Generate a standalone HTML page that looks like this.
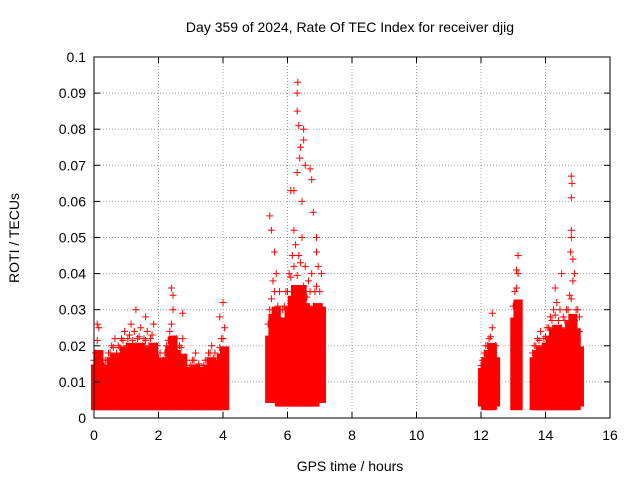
<!DOCTYPE html>
<html><head><meta charset="utf-8"><style>
body{margin:0;background:#fff;font-family:"Liberation Sans",sans-serif;}
svg text{font-family:"Liberation Sans",sans-serif;font-size:14px;fill:#000;}
</style></head><body>
<svg id="chart" width="640" height="480" viewBox="0 0 640 480">
<text x="350" y="32" text-anchor="middle">Day 359 of 2024, Rate Of TEC Index for receiver djig</text>
<text x="350" y="471" text-anchor="middle">GPS time / hours</text>
<text transform="translate(19,238) rotate(-90)" text-anchor="middle">ROTI / TECUs</text>
<g id="grid"></g>
<g id="bands"></g>
<g id="points"></g>
<rect x="94" y="57" width="516" height="361" fill="none" stroke="#000" stroke-width="1"/>
<g id="ticks"></g>
</svg>
<script>
const xTicks=[0,2,4,6,8,10,12,14,16];
const yTicks=[0,0.01,0.02,0.03,0.04,0.05,0.06,0.07,0.08,0.09,0.1];
const yTickLabels=["0","0.01","0.02","0.03","0.04","0.05","0.06","0.07","0.08","0.09","0.1"];
const binTimes=[0.0,0.1,0.2,0.3,0.4,0.5,0.6,0.7,0.8,0.9,1.0,1.1,1.2,1.3,1.4,1.5,1.6,1.7,1.8,1.9,2.0,2.1,2.2,2.3,2.4,2.5,2.6,2.7,2.8,2.9,3.0,3.1,3.2,3.3,3.4,3.5,3.6,3.7,3.8,3.9,4.0,
5.4,5.5,5.6,5.7,5.8,5.9,6.0,6.1,6.2,6.3,6.4,6.5,6.6,6.7,6.8,6.9,7.0,
12.0,12.1,12.2,12.3,12.4,
13.0,13.1,
13.6,13.7,13.8,13.9,14.0,14.1,14.2,14.3,14.4,14.5,14.6,14.7,14.8,14.9,15.0];
const binDense=[0.014,0.018,0.012,0.013,0.014,0.016,0.017,0.016,0.017,0.019,0.018,0.02,0.019,0.018,0.02,0.018,0.019,0.018,0.02,0.016,0.015,0.013,0.016,0.019,0.022,0.018,0.016,0.017,0.013,0.012,0.013,0.014,0.012,0.012,0.013,0.014,0.016,0.015,0.013,0.017,0.019,
0.022,0.028,0.03,0.027,0.024,0.027,0.03,0.033,0.036,0.034,0.036,0.031,0.029,0.03,0.027,0.031,0.03,
0.013,0.016,0.018,0.02,0.016,
0.027,0.032,
0.016,0.018,0.019,0.018,0.02,0.022,0.024,0.025,0.024,0.022,0.024,0.026,0.028,0.024,0.019];
const binPeaks=[0.018,0.025,0.015,0.016,0.018,0.02,0.022,0.02,0.022,0.024,0.022,0.026,0.024,0.022,0.025,0.022,0.024,0.022,0.026,0.02,0.018,0.016,0.02,0.024,0.03,0.022,0.02,0.022,0.016,0.014,0.016,0.018,0.015,0.014,0.016,0.018,0.02,0.018,0.016,0.022,0.025,
0.03,0.038,0.04,0.035,0.03,0.035,0.04,0.045,0.048,0.045,0.05,0.042,0.038,0.04,0.035,0.042,0.04,
0.016,0.02,0.022,0.025,0.02,
0.035,0.04,
0.02,0.022,0.024,0.022,0.025,0.028,0.03,0.032,0.03,0.028,0.03,0.034,0.038,0.03,0.024];
const binLows=[0.003,0.003,0.003,0.003,0.003,0.003,0.003,0.003,0.003,0.003,0.003,0.003,0.003,0.003,0.003,0.003,0.003,0.003,0.003,0.003,0.003,0.003,0.003,0.003,0.003,0.003,0.003,0.003,0.003,0.003,0.003,0.003,0.003,0.003,0.003,0.003,0.003,0.003,0.003,0.003,0.003,
0.005,0.005,0.005,0.004,0.004,0.004,0.004,0.004,0.004,0.004,0.004,0.004,0.004,0.004,0.004,0.005,0.005,
0.004,0.003,0.003,0.003,0.004,
0.003,0.003,
0.003,0.003,0.003,0.003,0.003,0.003,0.003,0.003,0.003,0.003,0.003,0.003,0.003,0.003,0.004];
const ptTimes=[0.1,1.3,1.6,2.4,2.45,2.75,4.0,3.9,5.45,5.5,5.6,6.1,6.2,6.3,6.32,6.3,6.3,6.35,6.4,6.38,6.5,6.5,6.55,6.7,6.75,6.8,6.45,6.9,6.9,6.2,12.35,13.15,13.1,14.3,14.5,14.8,14.82,14.8,14.8,14.8,14.78,14.85,14.9,15.0,15.05];
const ptValues=[0.026,0.03,0.028,0.036,0.034,0.029,0.032,0.028,0.056,0.052,0.046,0.063,0.063,0.068,0.093,0.09,0.085,0.081,0.075,0.072,0.08,0.077,0.07,0.069,0.066,0.057,0.06,0.05,0.046,0.052,0.029,0.045,0.041,0.036,0.04,0.067,0.065,0.061,0.052,0.05,0.046,0.044,0.04,0.03,0.028];
const NS="http://www.w3.org/2000/svg";
const X0=94,X1=610,Y0=418,Y1=57;
function xs(t){return X0+(t-0)/(16-0)*(X1-X0);}
function ys(v){return Y0-(v-0)/(0.1-0)*(Y0-Y1);}
function mk(tag,attrs,parent){const e=document.createElementNS(NS,tag);for(const k in attrs)e.setAttribute(k,attrs[k]);parent.appendChild(e);return e;}
function plus(x,y,parent,col){return mk('path',{d:`M${x-3.5},${y}H${x+3.5}M${x},${y-3.5}V${y+3.5}`,stroke:col,'stroke-width':1},parent);}
const grid=document.getElementById('grid'),ticks=document.getElementById('ticks');
xTicks.forEach((t,i)=>{
  const x=xs(t);
  if(i>0&&i<xTicks.length-1){const g=mk('line',{x1:x,x2:x,y1:Y0,y2:Y1,stroke:'#a0a0a0','stroke-dasharray':'1,2'},grid);
  
  }
  mk('line',{x1:x,x2:x,y1:Y0,y2:Y0-6,stroke:'#000'},ticks);
  mk('line',{x1:x,x2:x,y1:Y1,y2:Y1+6,stroke:'#000'},ticks);
  const l=mk('text',{x:x,y:Y0+22,'text-anchor':'middle'},ticks);l.textContent=t;
  
  
});
yTicks.forEach((v,i)=>{
  const y=ys(v);
  if(i>0&&i<yTicks.length-1){const g=mk('line',{x1:X0,x2:X1,y1:y,y2:y,stroke:'#a0a0a0','stroke-dasharray':'1,2'},grid);
  
  }
  mk('line',{x1:X0,x2:X0+6,y1:y,y2:y,stroke:'#000'},ticks);
  mk('line',{x1:X1,x2:X1-6,y1:y,y2:y,stroke:'#000'},ticks);
  const l=mk('text',{x:X0-8,y:y+5,'text-anchor':'end'},ticks);l.textContent=yTickLabels[i];
  
  
});
const bands=document.getElementById('bands');
binTimes.forEach((t,i)=>{
  const x=xs(t)-3, w=xs(t+0.1)-xs(t)+6;
  const yt=ys(binDense[i])-3, yb=ys(binLows[i])+3;
  const r=mk('rect',{x:x,y:yt,width:w,height:yb-yt,fill:'#ff0000'},bands);
  
  
  const xm=xs(t+0.05);
  const pk=plus(xm,ys(binPeaks[i]),bands,'#ff0000');
  
  
  const md=plus(xs(t),ys((binPeaks[i]+binDense[i])/2),bands,'#ff0000');
  
  
});
const pts=document.getElementById('points');
ptTimes.forEach((t,i)=>{
  const p=plus(xs(t),ys(ptValues[i]),pts,'#ff0000');
  
  
});
</script>
</body></html>
